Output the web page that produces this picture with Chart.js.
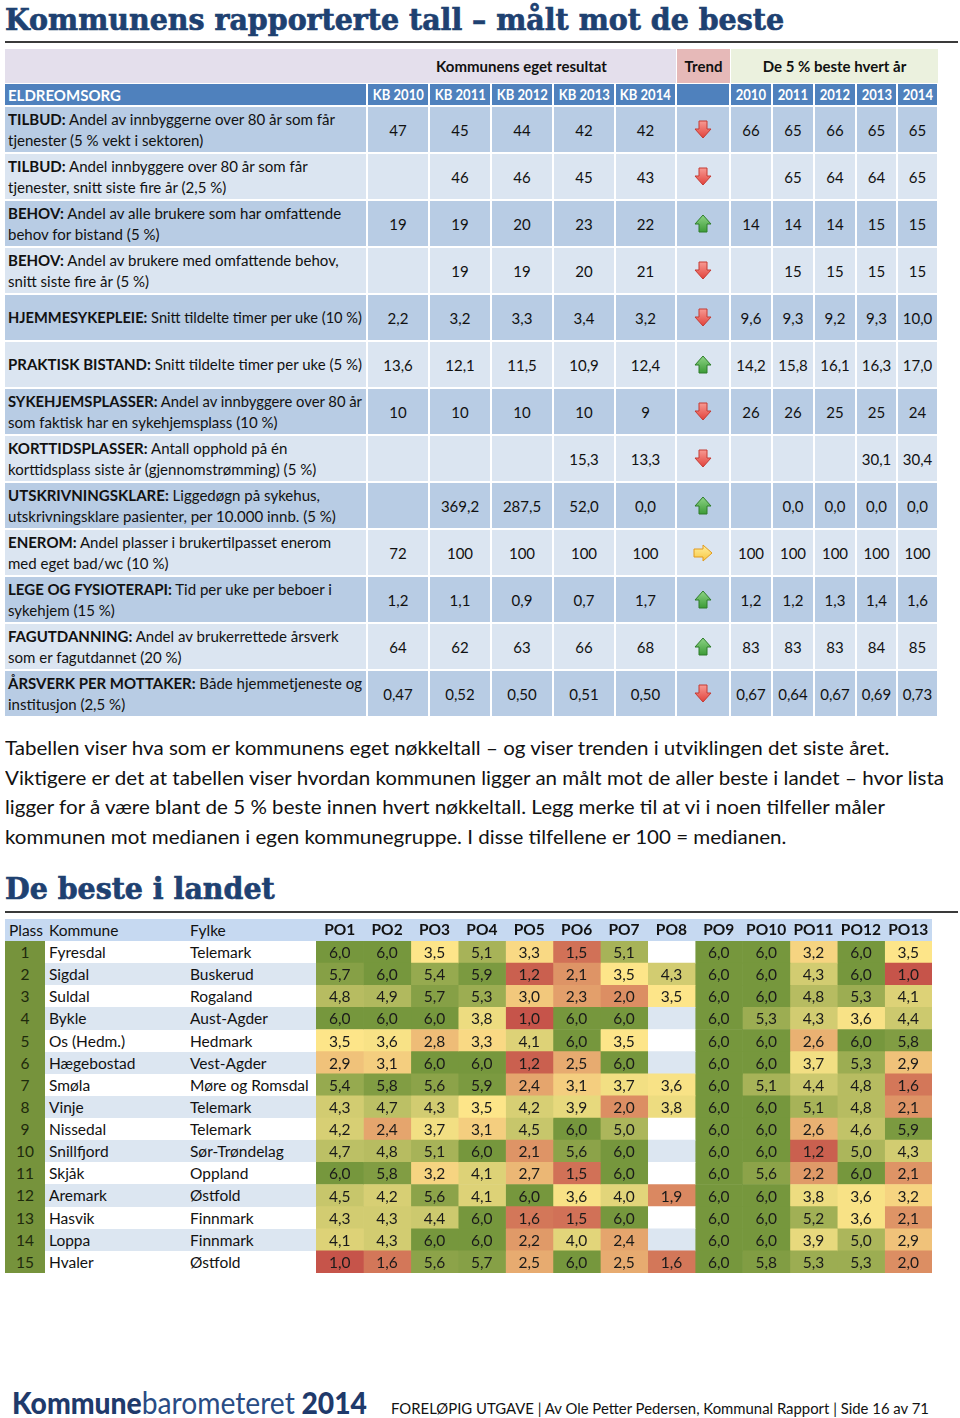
<!DOCTYPE html>
<html><head><meta charset="utf-8">
<script src="https://cdn.jsdelivr.net/npm/chart.js@4.4.1/dist/chart.umd.min.js"></script>
<style>
html,body{margin:0;padding:0;background:#fff}
body{width:960px;height:1418px;position:relative;overflow:hidden;font-family:Lato,'Liberation Sans',sans-serif;color:#111}
.a{position:absolute;box-sizing:border-box}
.title{position:absolute;font-family:'DejaVu Serif',serif;font-weight:bold;color:#1e4171;font-size:29px;line-height:29px;white-space:nowrap;transform-origin:left center;-webkit-text-stroke:0.7px #1e4171}
.rule{position:absolute;left:5px;width:953px;height:2px;background:#3a3a3a}
.c{position:absolute;box-sizing:border-box;display:flex;align-items:center;justify-content:center;font-size:15px;white-space:nowrap}
.ln{display:block;white-space:nowrap;transform-origin:left center;line-height:21px;font-size:15px}
.hs{display:inline-block;transform:scaleX(0.9);font-size:14.5px}
.para{position:absolute;left:5px;font-size:20px;line-height:24px;white-space:nowrap;transform-origin:left center;color:#111}
.t2{position:absolute;font-size:15.5px;white-space:nowrap;line-height:22px}
#hm{z-index:2}
</style>
</head><body>
<div class="title" id="title1" style="left:5px;top:6px">Kommunens rapporterte tall – målt mot de beste</div>
<div class="rule" style="top:41px"></div>
<div class="title" id="title2" style="left:5px;top:875px">De beste i landet</div>
<div class="rule" style="top:911px"></div>
<canvas id="hm" width="616" height="354" style="position:absolute;left:316px;top:919px;width:616px;height:354px"></canvas>
<script>
// ================= DATA =================
const sectionTitle = 'ELDREOMSORG';
const groupHeaders = ['Kommunens eget resultat', 'Trend', 'De 5 % beste hvert år'];
const kbYears = ['KB 2010', 'KB 2011', 'KB 2012', 'KB 2013', 'KB 2014'];
const bestYears = ['2010', '2011', '2012', '2013', '2014'];
const indicatorNames = ['TILBUD:', 'TILBUD:', 'BEHOV:', 'BEHOV:', 'HJEMMESYKEPLEIE:', 'PRAKTISK BISTAND:',
  'SYKEHJEMSPLASSER:', 'KORTTIDSPLASSER:', 'UTSKRIVNINGSKLARE:', 'ENEROM:', 'LEGE OG FYSIOTERAPI:',
  'FAGUTDANNING:', 'ÅRSVERK PER MOTTAKER:'];
const indicatorTexts = [
  ' Andel av innbyggerne over 80 år som får\ntjenester (5 % vekt i sektoren)',
  ' Andel innbyggere over 80 år som får\ntjenester, snitt siste fire år (2,5 %)',
  ' Andel av alle brukere som har omfattende\nbehov for bistand (5 %)',
  ' Andel av brukere med omfattende behov,\nsnitt siste fire år (5 %)',
  ' Snitt tildelte timer per uke (10 %)',
  ' Snitt tildelte timer per uke (5 %)',
  ' Andel av innbyggere over 80 år\nsom faktisk har en sykehjemsplass (10 %)',
  ' Antall opphold på én\nkorttidsplass siste år (gjennomstrømming) (5 %)',
  ' Liggedøgn på sykehus,\nutskrivningsklare pasienter, per 10.000 innb. (5 %)',
  ' Andel plasser i brukertilpasset enerom\nmed eget bad/wc (10 %)',
  ' Tid per uke per beboer i\nsykehjem (15 %)',
  ' Andel av brukerrettede årsverk\nsom er fagutdannet (20 %)',
  ' Både hjemmetjeneste og\ninstitusjon (2,5 %)'
];
const kommuneResults = [
  [47, 45, 44, 42, 42],
  [null, 46, 46, 45, 43],
  [19, 19, 20, 23, 22],
  [null, 19, 19, 20, 21],
  [2.2, 3.2, 3.3, 3.4, 3.2],
  [13.6, 12.1, 11.5, 10.9, 12.4],
  [10, 10, 10, 10, 9],
  [null, null, null, 15.3, 13.3],
  [null, 369.2, 287.5, 52.0, 0.0],
  [72, 100, 100, 100, 100],
  [1.2, 1.1, 0.9, 0.7, 1.7],
  [64, 62, 63, 66, 68],
  [0.47, 0.52, 0.50, 0.51, 0.50]
];
const trends = ['down', 'down', 'up', 'down', 'down', 'up', 'down', 'down', 'up', 'flat', 'up', 'up', 'down'];
const bestResults = [
  [66, 65, 66, 65, 65],
  [null, 65, 64, 64, 65],
  [14, 14, 14, 15, 15],
  [null, 15, 15, 15, 15],
  [9.6, 9.3, 9.2, 9.3, 10.0],
  [14.2, 15.8, 16.1, 16.3, 17.0],
  [26, 26, 25, 25, 24],
  [null, null, null, 30.1, 30.4],
  [null, 0.0, 0.0, 0.0, 0.0],
  [100, 100, 100, 100, 100],
  [1.2, 1.2, 1.3, 1.4, 1.6],
  [83, 83, 83, 84, 85],
  [0.67, 0.64, 0.67, 0.69, 0.73]
];
const decimals = [0, 0, 0, 0, 1, 1, 0, 1, 1, 0, 1, 0, 2];

const paragraphLines = [
  'Tabellen viser hva som er kommunens eget nøkkeltall – og viser trenden i utviklingen det siste året.',
  'Viktigere er det at tabellen viser hvordan kommunen ligger an målt mot de aller beste i landet – hvor lista',
  'ligger for å være blant de 5 % beste innen hvert nøkkeltall. Legg merke til at vi i noen tilfeller måler',
  'kommunen mot medianen i egen kommunegruppe. I disse tilfellene er 100 = medianen.'
];

const table2Headers = ['Plass', 'Kommune', 'Fylke'];
const plass = [1, 2, 3, 4, 5, 6, 7, 8, 9, 10, 11, 12, 13, 14, 15];
const kommuner = ['Fyresdal', 'Sigdal', 'Suldal', 'Bykle', 'Os (Hedm.)', 'Hægebostad', 'Smøla', 'Vinje',
  'Nissedal', 'Snillfjord', 'Skjåk', 'Aremark', 'Hasvik', 'Loppa', 'Hvaler'];
const fylker = ['Telemark', 'Buskerud', 'Rogaland', 'Aust-Agder', 'Hedmark', 'Vest-Agder', 'Møre og Romsdal',
  'Telemark', 'Telemark', 'Sør-Trøndelag', 'Oppland', 'Østfold', 'Finnmark', 'Finnmark', 'Østfold'];
const poLabels = ['PO1', 'PO2', 'PO3', 'PO4', 'PO5', 'PO6', 'PO7', 'PO8', 'PO9', 'PO10', 'PO11', 'PO12', 'PO13'];
const poValues = [
  [6.0, 6.0, 3.5, 5.1, 3.3, 1.5, 5.1, null, 6.0, 6.0, 3.2, 6.0, 3.5],
  [5.7, 6.0, 5.4, 5.9, 1.2, 2.1, 3.5, 4.3, 6.0, 6.0, 4.3, 6.0, 1.0],
  [4.8, 4.9, 5.7, 5.3, 3.0, 2.3, 2.0, 3.5, 6.0, 6.0, 4.8, 5.3, 4.1],
  [6.0, 6.0, 6.0, 3.8, 1.0, 6.0, 6.0, null, 6.0, 5.3, 4.3, 3.6, 4.4],
  [3.5, 3.6, 2.8, 3.3, 4.1, 6.0, 3.5, null, 6.0, 6.0, 2.6, 6.0, 5.8],
  [2.9, 3.1, 6.0, 6.0, 1.2, 2.5, 6.0, null, 6.0, 6.0, 3.7, 5.3, 2.9],
  [5.4, 5.8, 5.6, 5.9, 2.4, 3.1, 3.7, 3.6, 6.0, 5.1, 4.4, 4.8, 1.6],
  [4.3, 4.7, 4.3, 3.5, 4.2, 3.9, 2.0, 3.8, 6.0, 6.0, 5.1, 4.8, 2.1],
  [4.2, 2.4, 3.7, 3.1, 4.5, 6.0, 5.0, null, 6.0, 6.0, 2.6, 4.6, 5.9],
  [4.7, 4.8, 5.1, 6.0, 2.1, 5.6, 6.0, null, 6.0, 6.0, 1.2, 5.0, 4.3],
  [6.0, 5.8, 3.2, 4.1, 2.7, 1.5, 6.0, null, 6.0, 5.6, 2.2, 6.0, 2.1],
  [4.5, 4.2, 5.6, 4.1, 6.0, 3.6, 4.0, 1.9, 6.0, 6.0, 3.8, 3.6, 3.2],
  [4.3, 4.3, 4.4, 6.0, 1.6, 1.5, 6.0, null, 6.0, 6.0, 5.2, 3.6, 2.1],
  [4.1, 4.3, 6.0, 6.0, 2.2, 4.0, 2.4, null, 6.0, 6.0, 3.9, 5.0, 2.9],
  [1.0, 1.6, 5.6, 5.7, 2.5, 6.0, 2.5, 1.6, 6.0, 5.8, 5.3, 5.3, 2.0]
];

const footerText = 'FORELØPIG UTGAVE | Av Ole Petter Pedersen, Kommunal Rapport | Side 16 av 71';

// ================= HELPERS =================
function fmt(v, d) { return v == null ? '' : v.toFixed(d).replace('.', ','); }
function el(tag, cls, style, html) {
  const e = document.createElement(tag);
  if (cls) e.className = cls;
  if (style) Object.assign(e.style, style);
  if (html != null) e.innerHTML = html;
  document.body.appendChild(e);
  return e;
}
function cell(x0, y0, x1, y1, bg, html, extra) {
  return el('div', 'c', Object.assign({ left: x0 + 'px', top: y0 + 'px', width: (x1 - x0) + 'px', height: (y1 - y0) + 'px', background: bg || 'transparent' }, extra || {}), html);
}
function arrow(kind) {
  if (kind === 'down') return '<svg width="18" height="19" viewBox="0 0 18 19"><defs><linearGradient id="gd" x1="0" y1="0" x2="0" y2="1"><stop offset="0" stop-color="#f79a93"/><stop offset="1" stop-color="#e2423b"/></linearGradient></defs><path d="M5,1 H13 V9 H17 L9,18 L1,9 H5 Z" fill="url(#gd)" stroke="#c53a33" stroke-width="1"/></svg>';
  if (kind === 'up') return '<svg width="18" height="19" viewBox="0 0 18 19"><defs><linearGradient id="gu" x1="0" y1="0" x2="0" y2="1"><stop offset="0" stop-color="#8ed486"/><stop offset="1" stop-color="#3c9b37"/></linearGradient></defs><path d="M9,1 L17,10 H13 V18 H5 V10 H1 Z" fill="url(#gu)" stroke="#2f7d2b" stroke-width="1"/></svg>';
  return '<svg width="20" height="18" viewBox="0 0 20 18"><defs><linearGradient id="gf" x1="0" y1="0" x2="0" y2="1"><stop offset="0" stop-color="#fff0a0"/><stop offset="1" stop-color="#f7c640"/></linearGradient></defs><path d="M1,5 H10 V1 L19,9 L10,17 V13 H1 Z" fill="url(#gf)" stroke="#e29a1c" stroke-width="1"/></svg>';
}

// ================= TABLE 1 =================
const X = [5, 367, 429, 491, 553, 615, 676, 730, 772, 814, 856, 897, 938];
const ROW0 = 106, RH = 47;
cell(5, 49, 676, 83, '#e4dfec');
cell(367, 49, 676, 83, null, '<b>' + groupHeaders[0] + '</b>');
cell(677, 49, 730, 83, '#e6b9b8', '<b>' + groupHeaders[1] + '</b>');
cell(731, 49, 938, 83, '#ebf1de', '<b>' + groupHeaders[2] + '</b>');
const hdr2 = [sectionTitle].concat(kbYears, [''], bestYears);
for (let c = 0; c < 12; c++) {
  const x0 = c === 0 ? 5 : X[c] + 1, x1 = X[c + 1] - 1;
  const d = cell(x0, 84, x1, 105, '#4f81bd', c === 0 ? '<b>' + hdr2[c] + '</b>' : '<b class="hs">' + hdr2[c] + '</b>', { color: '#fff' });
  if (c === 0) { d.style.justifyContent = 'flex-start'; d.style.paddingLeft = '3px'; }
}
const labelLines = [];
for (let r = 0; r < indicatorNames.length; r++) {
  const y0 = ROW0 + r * RH + 1, y1 = ROW0 + (r + 1) * RH - 1;
  const bg = r % 2 === 0 ? '#b8cce4' : '#dbe5f1';
  const parts = indicatorTexts[r].split('\n');
  let html = '<div>';
  parts.forEach((p, i) => {
    html += '<span class="ln">' + (i === 0 ? '<b>' + indicatorNames[r] + '</b>' : '') + p + '</span>';
  });
  html += '</div>';
  const lc = cell(5, y0, X[1] - 1, y1, bg, html);
  lc.style.justifyContent = 'flex-start'; lc.style.paddingLeft = '3px';
  lc.querySelectorAll('.ln').forEach(s => labelLines.push(s));
  for (let k = 0; k < 5; k++) cell(X[1 + k] + 1, y0, X[2 + k] - 1, y1, bg, fmt(kommuneResults[r][k], decimals[r]));
  cell(X[6] + 1, y0, X[7] - 1, y1, bg, arrow(trends[r]));
  for (let k = 0; k < 5; k++) cell(X[7 + k] + 1, y0, X[8 + k] - 1, y1, bg, fmt(bestResults[r][k], decimals[r]));
}
// horizontal compression to match the narrow reference face
(function () {
  const widths = labelLines.map(s => { s.style.display = 'inline-block'; const w = s.getBoundingClientRect().width; s.style.display = ''; return w; });
  const k = 327 / widths[0];
  labelLines.forEach((s, i) => {
    const kk = Math.min(k, 354 / widths[i]);
    s.style.transform = 'scaleX(' + kk + ')';
  });
})();

// ================= PARAGRAPH =================
const paraEls = paragraphLines.map((t, i) => el('div', 'para', { top: (735 + i * 29.5) + 'px' }, t));
(function () {
  const w = paraEls[1].getBoundingClientRect().width;
  const k = 939 / w;
  paraEls.forEach(p => p.style.transform = 'scaleX(' + k + ')');
})();

// titles
(function () {
  const t1 = document.getElementById('title1'), t2 = document.getElementById('title2');
  const k = 779 / t1.getBoundingClientRect().width;
  t1.style.transform = t2.style.transform = 'scaleX(' + k + ')';
})();

// ================= TABLE 2 (html part) =================
const T2TOP = 941, T2H = 332 / 15;
el('div', 'a', { left: '5px', top: '919px', width: '927px', height: '22px', background: '#c6d9f1' });
el('div', 't2', { left: '9px', top: '919px' }, table2Headers[0]);
el('div', 't2', { left: '49px', top: '919px' }, table2Headers[1]);
el('div', 't2', { left: '190px', top: '919px' }, table2Headers[2]);
el('div', 'a', { left: '5px', top: T2TOP + 'px', width: '40px', height: '332px', background: '#76933c' });
for (let i = 0; i < kommuner.length; i++) {
  const top = T2TOP + i * T2H;
  if (i % 2 === 1) el('div', 'a', { left: '45px', top: top + 'px', width: '271px', height: T2H + 'px', background: '#dce6f1' });
  el('div', 't2', { left: '5px', width: '40px', textAlign: 'center', top: top + 'px', color: '#1e2a0c' }, String(plass[i]));
  el('div', 't2', { left: '49px', top: top + 'px' }, kommuner[i]);
  el('div', 't2', { left: '190px', top: top + 'px' }, fylker[i]);
}

// ================= FOOTER =================
const logo = el('div', 'a', { left: '12px', top: '1386px', whiteSpace: 'nowrap', fontSize: '30px', lineHeight: '32px', color: '#1f3a6b', transformOrigin: 'left center' },
  '<span style="font-weight:900">Kommune</span><span style="font-weight:400;color:#2a4c84">barometeret</span><span style="font-weight:900"> 2014</span>');
logo.style.transform = 'scaleX(' + (355 / logo.getBoundingClientRect().width) + ')';
const foot = el('div', 'a', { left: '391px', top: '1398px', whiteSpace: 'nowrap', fontSize: '15px', lineHeight: '20px', color: '#111', transformOrigin: 'left center' }, footerText);
foot.style.transform = 'scaleX(' + (538 / foot.getBoundingClientRect().width) + ')';

// ================= HEATMAP (Chart.js) =================
function heatColor(v) {
  const lo = [198, 84, 74], mid = [253, 229, 137], hi = [118, 151, 61];
  let a, b, t;
  if (v <= 3.5) { a = lo; b = mid; t = (v - 1) / 2.5; } else { a = mid; b = hi; t = (v - 3.5) / 2.5; }
  t = Math.max(0, Math.min(1, t));
  const c = a.map((x, i) => Math.round(x + (b[i] - x) * t));
  return 'rgb(' + c.join(',') + ')';
}
const datasets = poLabels.map((po, j) => ({
  label: po,
  data: kommuner.map(() => [j, j + 1]),
  backgroundColor: kommuner.map((_, i) => poValues[i][j] == null ? (i % 2 === 1 ? '#dce6f1' : '#ffffff') : heatColor(poValues[i][j])),
  borderWidth: 0,
  barPercentage: 1,
  categoryPercentage: 1,
  grouped: false
}));
const cellText = {
  id: 'cellText',
  afterDatasetsDraw(chart) {
    const ctx = chart.ctx;
    ctx.save();
    ctx.font = '15.5px Lato';
    ctx.fillStyle = '#1a1a1a';
    ctx.textAlign = 'center';
    ctx.textBaseline = 'middle';
    chart.data.datasets.forEach((ds, j) => {
      chart.getDatasetMeta(j).data.forEach((bar, i) => {
        const v = poValues[i][j];
        if (v == null) return;
        const p = bar.getCenterPoint();
        ctx.fillText(fmt(v, 1), p.x, p.y + 1);
      });
    });
    ctx.restore();
  }
};
new Chart(document.getElementById('hm'), {
  type: 'bar',
  data: { labels: kommuner, datasets },
  options: {
    indexAxis: 'y',
    responsive: false,
    animation: false,
    devicePixelRatio: 1,
    layout: { padding: 0 },
    plugins: { legend: { display: false }, tooltip: { enabled: false } },
    scales: {
      x: { type: 'linear', min: 0, max: poLabels.length, display: false },
      y: { type: 'category', display: false, offset: true },
      x2: {
        type: 'category', labels: poLabels, position: 'top', offset: true,
        grid: { display: false, drawTicks: false }, border: { display: false },
        ticks: { color: '#111', padding: 2, font: { family: 'Lato', size: 15.5, weight: 'bold' }, maxRotation: 0, autoSkip: false },
        afterFit: s => { s.height = 22; }
      }
    }
  },
  plugins: [cellText]
});
</script>
</body></html>
